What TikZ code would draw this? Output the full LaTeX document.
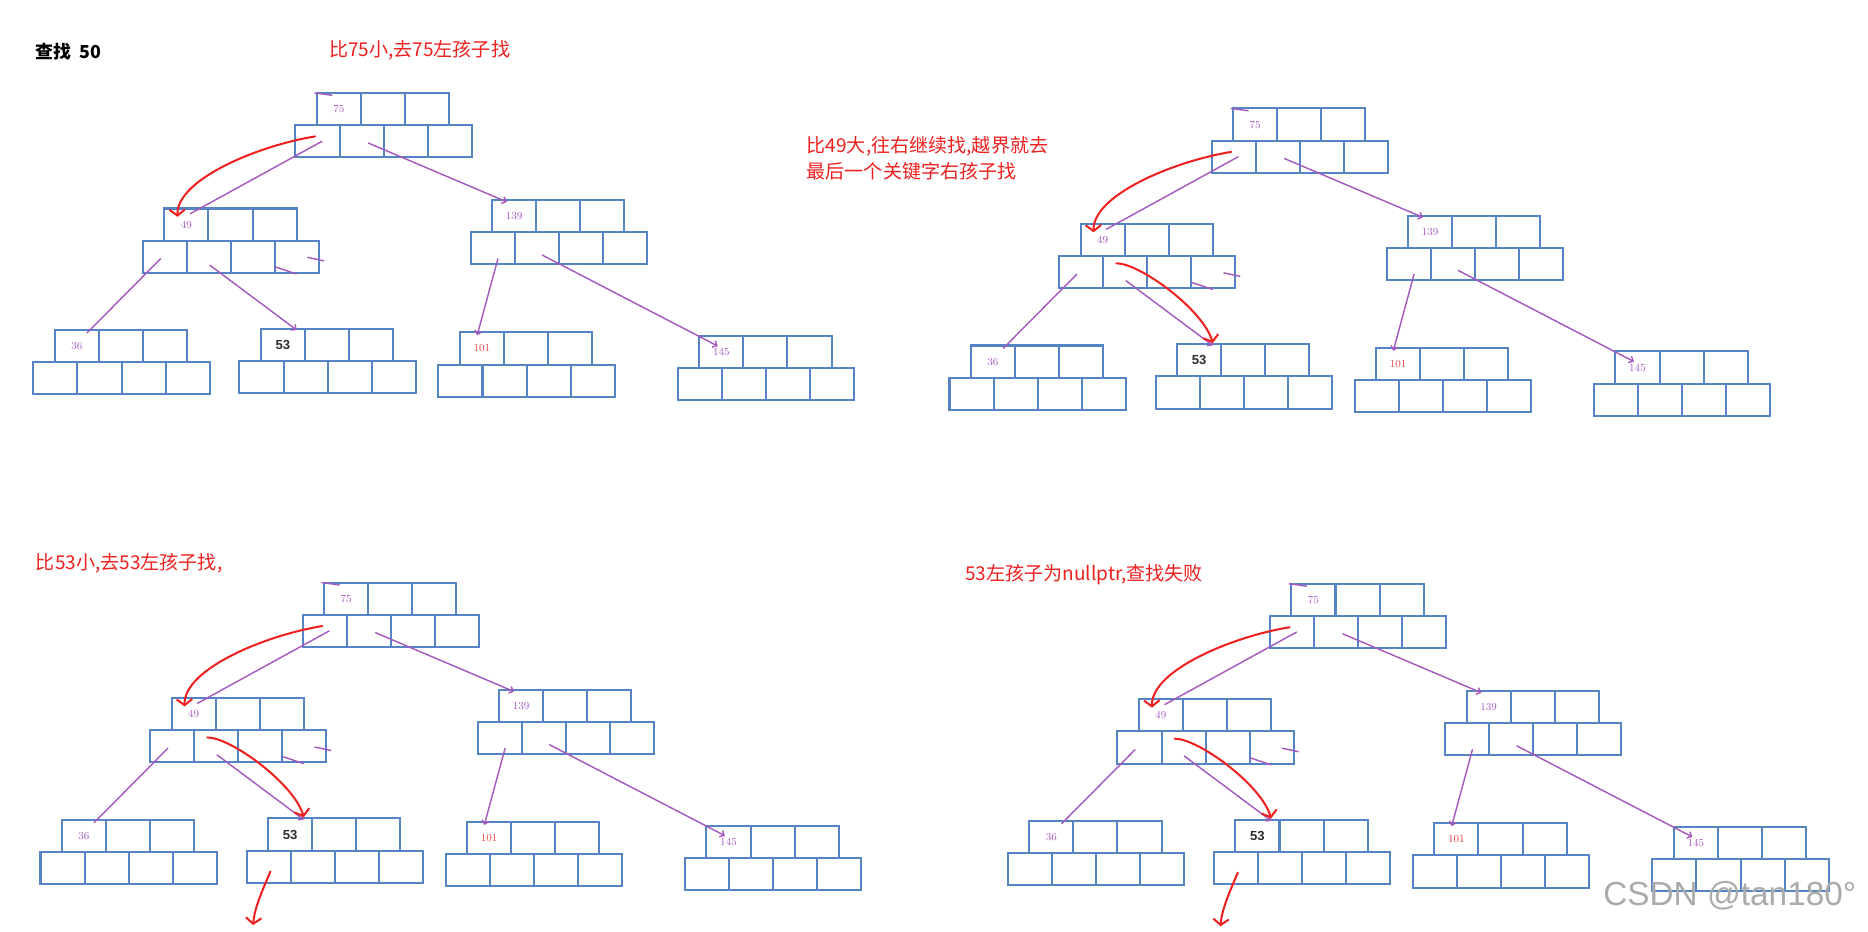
\documentclass[tikz,border=0pt]{standalone}
\usepackage{fontspec}
\setsansfont{Liberation Sans}
\newfontfamily\cjk{Noto Sans CJK SC}
\usetikzlibrary{arrows.meta,calc}
\definecolor{keyblue}{RGB}{84,132,198}
\definecolor{plum}{RGB}{165,88,190}
\definecolor{penred}{RGB}{238,32,32}
\definecolor{keyred}{RGB}{232,70,70}
\definecolor{ink}{RGB}{45,45,45}
\tikzset{
  cell/.style={draw=keyblue,line width=1.7pt,minimum width=37pt,minimum height=27pt,
    inner sep=0pt,outer sep=0pt},
  key/.style={font=\fontsize{9}{9}\selectfont,text=#1,inner sep=0pt},
  key/.default=plum,
  hit/.style={font=\sffamily\bfseries\fontsize{11}{11}\selectfont,text=ink,inner sep=0pt},
  link/.style={draw=plum,line width=1.2pt},
  link tip/.style={link,-{Straight Barb[length=3pt,width=6pt]}},
  pen/.style={draw=penred,line width=1.7pt,line cap=round,
    -{Straight Barb[length=5pt,width=13pt]}},
  note/.style={font=\cjk\fontsize{16}{22}\selectfont,text=penred,anchor=west,
    align=left,inner sep=0pt},
  % one B-tree node: 3 keys on top, 4 child slots below
  pics/bnode/.style 2 args={code={
    \foreach \i in {1,2,3}
      \node[cell] (-k\i) at (18.5+37*\i-37,13.5) {};
    \foreach \j in {1,...,4}
      \node[cell] (-c\j) at (0.5+37*\j-37,40.5) {};
    \node[#2] (-lab) at (-k1.center) {#1};
  }},
}
\begin{document}
\begin{tikzpicture}[x=1pt,y=-1pt]
  \path[use as bounding box,fill=white] (0,0) rectangle (1568,782);
  \node[font=\cjk\bfseries\fontsize{15}{15}\selectfont,anchor=west,inner sep=0pt] (title) at (30,43) {查找\ \ 50};
  \node[note] (n1) at (276,42) {比75小,去75左孩子找};
  \node[note] (n2) at (677,133) {比49大,往右继续找,越界就去\\最后一个关键字右孩子找};
  \node[note] (n3) at (30,473) {比53小,去53左孩子找,};
  \node[note] (n4) at (810,482) {53左孩子为nullptr,查找失败};
  \foreach \p/\dx/\dy in {1/0/0,2/769/13,3/6/411,4/818/412}{
    \begin{scope}[shift={(\dx,\dy)}]
      \pic (p\p-75)  at (266,78)  {bnode={75}{key}};
      \pic (p\p-49)  at (138,175) {bnode={49}{key}};
      \pic (p\p-139) at (413,168) {bnode={139}{key}};
      \pic (p\p-36)  at (46,277)  {bnode={36}{key}};
      \pic (p\p-53)  at (219,276) {bnode={53}{hit}};
      \pic (p\p-101) at (386,279) {bnode={101}{key=keyred}};
      \pic (p\p-145) at (587,282) {bnode={145}{key}};
      % child pointers
      \draw[link] ([shift={(4,0)}]p\p-75-c1.center) -- ([shift={(3,-9)}]p\p-49-k1.center);
      \draw[link tip] ([shift={(5.5,1.5)}]p\p-75-c2.center) -- ([shift={(-6,-12)}]p\p-139-k1.center);
      \draw[link] ([shift={(-3.5,1.5)}]p\p-49-c1.center) -- ([shift={(8.5,-11)}]p\p-36-k1.center);
      \draw[link tip] ([shift={(0.5,7)}]p\p-49-c2.center) -- ([shift={(11.5,-12.5)}]p\p-53-k1.center);
      \draw[link tip] ([shift={(4.5,8.5)}]p\p-139-c1.center) -- ([shift={(-4,-11)}]p\p-101-k1.center);
      \draw[link tip] ([shift={(4.5,5.5)}]p\p-139-c2.center) -- ([shift={(-3,-5)}]p\p-145-k1.center);
      % stray strokes
      \draw[link] ([shift={(-20.5,-13.5)}]p\p-75-k1.center) -- ++(15,2);
      \draw[link] ([shift={(-18.5,8.5)}]p\p-49-c4.center) -- ++(18,6);
      \draw[link] ([shift={(8.5,0.5)}]p\p-49-c4.center) -- ++(14,3);
    \end{scope}
  }
  % search path, hand drawn
  \foreach \p in {1,...,4}
    \draw[pen] ([shift={(-2,-4)}]p\p-75-c1.center) .. controls +(-49,8) and +(-1,-31) .. ([shift={(-7.5,-6.5)}]p\p-49-k1.center);
  \foreach \p in {2,3,4}
    \draw[pen] ([shift={(-7.5,-7.5)}]p\p-49-c2.center) .. controls +(20,0) and +(-8,-28) .. ([shift={(11.5,-14.5)}]p\p-53-k1.center);
  \foreach \p in {3,4}{
    \coordinate (p\p-null) at ([shift={(-13,49)}]p\p-53-c1.center);
    \draw[pen] ([shift={(1.5,4)}]p\p-53-c1.center) .. controls +(-5,12) and +(1,-15) .. (p\p-null);
  }
  \node[font=\sffamily\fontsize{28}{28}\selectfont,text=black!33] (mark) at (1452,752) {CSDN @tan180°};
\end{tikzpicture}
\end{document}
